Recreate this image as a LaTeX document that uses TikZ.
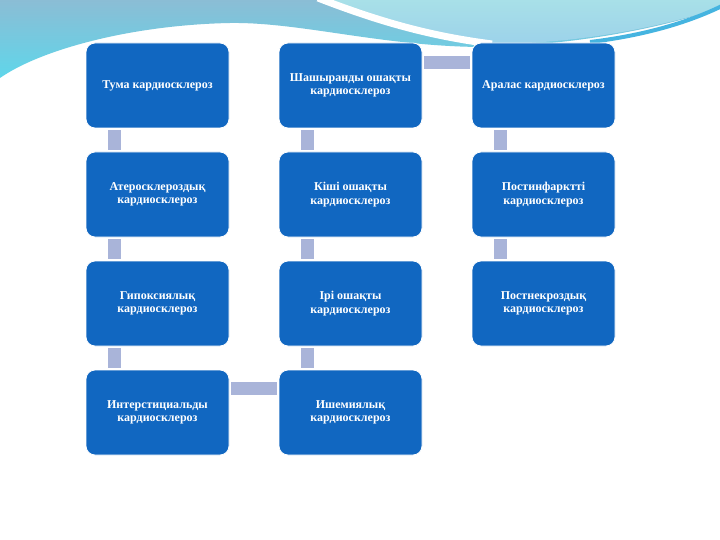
\documentclass[tikz,border=0pt]{standalone}
\usepackage{fontspec}
\setmainfont{Liberation Serif}
\begin{document}
\begin{tikzpicture}[x=1pt,y=-1pt,
  box/.style={draw=white,line width=0.8pt,fill=boxblue,rounded corners=9pt,
    minimum width=143pt,minimum height=85pt,inner sep=2pt,
    text=white,align=center,font=\bfseries\fontsize{12}{13.5}\selectfont},
  conn/.style={draw=connblue,line width=13pt,shorten <=2pt,shorten >=2pt}]
\definecolor{boxblue}{HTML}{1167C1}
\definecolor{connblue}{HTML}{A9B4D9}
\definecolor{bgtop}{HTML}{8BBDD5}
\definecolor{bgbot}{HTML}{5FD6EA}
\definecolor{bgright}{HTML}{A8E0E8}
\definecolor{bgright2}{HTML}{9CD2EA}
\definecolor{stripe}{HTML}{45B4E0}
\useasboundingbox (0,0) rectangle (720,540);
\fill[white] (0,0) rectangle (720,540);
% top background
\shade[top color=bgtop,bottom color=bgbot]
  (0,0) -- (720,0) -- (720,8) .. controls (650,32) and (560,46) .. (480,47)
  .. controls (380,46) and (300,22) .. (230,23)
  .. controls (130,25) and (40,50) .. (0,78) -- cycle;
\shade[top color=bgright,bottom color=bgright2]
  (318,0) .. controls (380,22) and (430,36) .. (490,44)
  .. controls (570,44) and (650,30) .. (720,8) -- (720,0) -- cycle;
\draw[white,line width=7pt] (318,-2) .. controls (380,22) and (430,36) .. (492,44);
\draw[stripe,line width=4pt] (590,42) .. controls (640,36) and (685,24) .. (722,6);
% boxes
\node[box] (a1) at (157.5,85.5) {Тума кардиосклероз};
\node[box] (a2) at (350.5,85.5) {Шашыранды ошақты\\кардиосклероз};
\node[box] (a3) at (543.5,85.5) {Аралас кардиосклероз};
\node[box] (b1) at (157.5,194.5) {Атеросклероздық\\кардиосклероз};
\node[box] (b2) at (350.5,194.5) {Кіші ошақты\\кардиосклероз};
\node[box] (b3) at (543.5,194.5) {Постинфарктті\\кардиосклероз};
\node[box] (c1) at (157.5,303.5) {Гипоксиялық\\кардиосклероз};
\node[box] (c2) at (350.5,303.5) {Ірі ошақты\\кардиосклероз};
\node[box] (c3) at (543.5,303.5) {Постнекроздық\\кардиосклероз};
\node[box] (d1) at (157.5,412.5) {Интерстициальды\\кардиосклероз};
\node[box] (d2) at (350.5,412.5) {Ишемиялық\\кардиосклероз};
% connectors
\foreach \u/\v in {a1/b1,b1/c1,c1/d1,a2/b2,b2/c2,c2/d2,a3/b3,b3/c3}
  \draw[conn] ([xshift=29pt]\u.south west) -- ([xshift=29pt]\v.north west);
\draw[conn] ([yshift=-20pt]a2.north east) -- ([yshift=-20pt]a3.north west);
\draw[conn] ([yshift=-19pt]d1.north east) -- ([yshift=-19pt]d2.north west);
\end{tikzpicture}
\end{document}
